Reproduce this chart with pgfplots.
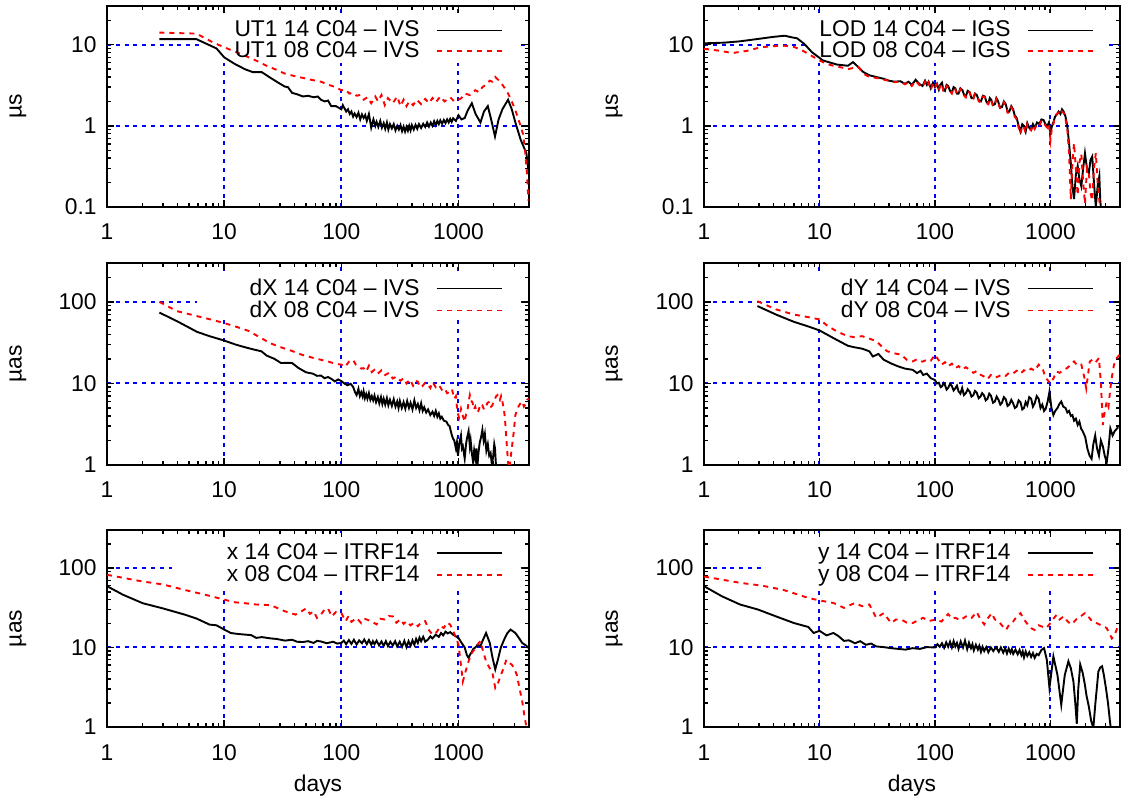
\documentclass[border=0pt]{standalone}
\usepackage{fontspec}
\setmainfont{Liberation Sans}
\usepackage{pgfplots}
\pgfplotsset{compat=1.18}
\newcommand\gpfont{\fontsize{11.4pt}{13.7pt}\selectfont}
\tikzset{
  blk/.style={black, line width=0.95pt, solid},
  rd/.style={red, line width=0.95pt, dash pattern=on 2.5pt off 2.5pt},
}
\begin{document}
\begin{tikzpicture}
\path[use as bounding box] (0,0) rectangle (563pt,401.5pt);

% ---------------- UT1 ----------------
\begin{axis}[at={(53.5pt,398.5pt)}, anchor=north west,
  scale only axis, width=211pt, height=100.5pt,
  xmode=log, ymode=log, xmin=1, xmax=4000, ymin=0.1, ymax=30,
  xtick={1,10,100,1000}, xticklabels={1,10,100,1000},
  minor xtick={2,3,4,5,6,7,8,9,20,30,40,50,60,70,80,90,200,300,400,500,600,700,800,900,2000,3000,4000},
  ytick={0.1,1,10}, yticklabels={0.1,1,10},
  minor ytick={0.2,0.3,0.4,0.5,0.6,0.7,0.8,0.9,2,3,4,5,6,7,8,9,20,30},
  axis line style={line width=1.2pt},
  tick style={black, line width=0.7pt},
  major tick length=3.6pt, minor tick length=2.2pt, tick align=inside,
  grid=major, major grid style={blue, line width=1pt, dash pattern=on 2pt off 2.4pt},
  xticklabel style={font=\gpfont, anchor=base, inner sep=0pt, yshift=-16.5pt},
  yticklabel style={font=\gpfont, anchor=east, inner sep=0pt, xshift=-5pt},
  ylabel={µs}, ylabel style={font=\gpfont, at={(rel axis cs:-0.211,0.5)}, anchor=center},
  legend image code/.code={\path (0pt,0pt); \draw[#1] (6pt,0pt) -- (38.5pt,0pt);},
  legend style={at={(0.938,0.947)}, anchor=north east,
    draw=none, fill=none, inner sep=0pt, row sep=-3pt, font=\gpfont},
  legend cell align=right, legend plot pos=right]
\addplot[fill=white, draw=none, forget plot] coordinates {(6.1,5.9)(3224,5.9)(3224,24.2)(6.1,24.2)} -- cycle;
\addplot[blk] coordinates {(2.8,11.7)(5.8,11.7)(8.6,9.0)(10,7.0)(12.3,5.8)(15,5.0)(17.5,4.6)(20.9,4.6)(24.9,3.9)(29,3.4)(32.9,3.05)(35,3.0)(38,2.55)(42,2.45)(47,2.3)(52,2.35)(58,2.25)(63,2.3)(67,2.1)(72,2.0)(77,2.05)(82,1.75)(90,1.75)(100,1.6)(103,1.8)(110,1.5)(114,1.6)(118,1.4)(122,1.5)(126,1.3)(130,1.42)(135,1.28)(140,1.45)(145,1.2)(150,1.38)(155,1.25)(160,1.36)(165,1.15)(172,1.4)(180,0.95)(188,1.2)(195,1.0)(200,1.12)(207,0.97)(215,1.15)(222,0.95)(230,1.08)(237,0.92)(245,1.1)(252,0.9)(260,1.05)(270,0.93)(280,1.05)(290,0.88)(300,1.0)(310,0.9)(320,1.02)(330,0.86)(340,0.98)(350,0.85)(360,0.97)(370,0.87)(380,1.0)(390,0.88)(400,1.02)(415,0.9)(430,1.03)(445,0.92)(460,1.05)(480,0.94)(500,1.06)(520,0.97)(540,1.1)(560,0.98)(580,1.1)(600,1.0)(620,1.14)(640,1.02)(660,1.15)(680,1.05)(700,1.17)(725,1.06)(750,1.18)(775,1.08)(800,1.2)(825,1.1)(850,1.22)(875,1.12)(900,1.24)(950,1.15)(1000,1.35)(1060,1.2)(1130,1.25)(1200,1.55)(1300,1.9)(1400,1.4)(1540,1.1)(1650,1.5)(1780,1.75)(1900,1.2)(2050,0.74)(2200,1.2)(2370,1.6)(2650,2.1)(2850,1.6)(3060,1.1)(3400,0.67)(3800,0.46)(3980,0.26)};
\addlegendentry{UT1 14 C04 – IVS}
\addplot[rd] coordinates {(2.8,14.1)(5.8,13.7)(8,10.7)(10,9.3)(13,8.0)(16.2,7.0)(20,6.1)(23,5.5)(28,4.9)(33,4.4)(40,4.1)(47,3.9)(55,3.7)(67,3.5)(78,3.2)(89,3.0)(100,2.75)(108,2.8)(117,2.5)(126,2.55)(135,2.35)(145,2.4)(155,2.1)(167,2.25)(180,1.9)(195,2.3)(206,2.0)(220,2.4)(235,1.8)(250,2.2)(275,1.9)(300,2.3)(320,1.75)(340,2.1)(360,1.75)(380,2.0)(410,1.8)(440,2.1)(480,1.85)(520,2.15)(560,1.9)(600,2.2)(640,1.95)(700,2.3)(760,2.0)(850,2.25)(920,2.0)(1000,2.1)(1060,2.2)(1130,2.5)(1250,2.4)(1390,2.75)(1500,2.6)(1600,3.0)(1720,3.2)(1850,3.6)(1950,3.5)(2060,4.0)(2180,3.7)(2300,3.4)(2450,3.0)(2650,2.5)(2850,2.0)(3060,1.55)(3250,1.2)(3400,0.98)(3550,0.8)(3700,0.5)(3850,0.25)(3950,0.12)};
\addlegendentry{UT1 08 C04 – IVS}
\end{axis}

% ---------------- LOD ----------------
\begin{axis}[at={(352pt,398.5pt)}, anchor=north west,
  scale only axis, width=208pt, height=100.5pt,
  xmode=log, ymode=log, xmin=1, xmax=4000, ymin=0.1, ymax=30,
  xtick={1,10,100,1000}, xticklabels={1,10,100,1000},
  minor xtick={2,3,4,5,6,7,8,9,20,30,40,50,60,70,80,90,200,300,400,500,600,700,800,900,2000,3000,4000},
  ytick={0.1,1,10}, yticklabels={0.1,1,10},
  minor ytick={0.2,0.3,0.4,0.5,0.6,0.7,0.8,0.9,2,3,4,5,6,7,8,9,20,30},
  axis line style={line width=1.2pt},
  tick style={black, line width=0.7pt},
  major tick length=3.6pt, minor tick length=2.2pt, tick align=inside,
  grid=major, major grid style={blue, line width=1pt, dash pattern=on 2pt off 2.4pt},
  xticklabel style={font=\gpfont, anchor=base, inner sep=0pt, yshift=-16.5pt},
  yticklabel style={font=\gpfont, anchor=east, inner sep=0pt, xshift=-5pt},
  ylabel={µs}, ylabel style={font=\gpfont, at={(rel axis cs:-0.216,0.5)}, anchor=center},
  legend image code/.code={\path (0pt,0pt); \draw[#1] (6pt,0pt) -- (38.5pt,0pt);},
  legend style={at={(0.9375,0.947)}, anchor=north east,
    draw=none, fill=none, inner sep=0pt, row sep=-3pt, font=\gpfont},
  legend cell align=right, legend plot pos=right]
\addplot[fill=white, draw=none, forget plot] coordinates {(7.5,5.9)(3224,5.9)(3224,24.2)(7.5,24.2)} -- cycle;
\addplot[blk] coordinates {(1,10.4)(1.5,10.6)(2.04,11.0)(3.1,11.9)(4,12.5)(5,12.9)(5.8,12.3)(6.4,12.0)(7.4,10.2)(8.6,8.1)(10.7,6.4)(12,6.1)(14.1,5.7)(17.6,5.5)(19.5,6.1)(21.7,5.3)(24,4.6)(27,4.2)(31,4.0)(36,3.8)(40,3.6)(44.6,3.5)(50,3.55)(55,3.3)(59,3.5)(63,3.2)(68,3.7)(73,3.3)(78,3.1)(82,3.6)(85,3.2)(88,3.5)(92,2.9)(96,3.4)(100,3.0)(104,3.3)(108,2.8)(111,3.2)(115,3.4)(118,2.8)(122,2.7)(126,3.2)(130,3.1)(135,2.7)(140,2.6)(145,3.0)(150,2.9)(155,2.5)(160,2.5)(166,2.9)(173,2.75)(179,2.4)(185,2.3)(192,2.7)(200,2.6)(207,2.2)(215,2.2)(222,2.5)(230,2.4)(240,2.05)(250,2.0)(260,2.35)(270,2.3)(280,1.95)(290,1.9)(298,2.2)(307,2.1)(318,1.8)(330,1.85)(340,2.2)(350,2.05)(365,1.7)(380,1.7)(395,2.0)(410,1.85)(425,1.5)(440,1.5)(458,1.75)(475,1.6)(490,1.35)(510,1.25)(530,1.0)(550,0.85)(570,1.05)(590,1.0)(610,0.85)(630,1.08)(655,0.95)(680,0.9)(705,1.05)(730,0.94)(765,1.1)(800,1.05)(835,1.2)(870,1.18)(905,1.05)(940,1.0)(970,1.1)(1000,0.81)(1030,1.0)(1060,1.1)(1095,1.3)(1130,1.36)(1175,1.5)(1220,1.4)(1260,1.6)(1300,1.5)(1350,1.3)(1400,0.98)(1450,0.6)(1500,0.35)(1550,0.18)(1600,0.125)(1660,0.25)(1720,0.32)(1780,0.22)(1850,0.18)(1920,0.3)(1990,0.46)(2070,0.3)(2150,0.26)(2220,0.38)(2300,0.42)(2380,0.2)(2470,0.1)(2560,0.18)(2650,0.24)(2700,0.12)(2750,0.09)};
\addlegendentry{LOD 14 C04 – IGS}
\addplot[rd] coordinates {(1,8.9)(1.3,8.5)(1.77,7.9)(2.36,8.4)(3.1,9.3)(4,9.6)(5,9.7)(6,9.4)(7,8.6)(8,7.7)(10,6.4)(11.5,5.8)(13.2,5.5)(15,5.3)(17.6,5.0)(20,5.2)(21.7,5.3)(24,4.4)(27,4.0)(31,3.9)(36,3.7)(40,3.6)(44.6,3.45)(50,3.5)(55,3.25)(59,3.45)(63,3.1)(68,3.6)(73,3.2)(78,3.0)(82,3.5)(85,3.1)(88,3.4)(92,2.8)(96,3.3)(100,2.95)(104,3.25)(108,2.75)(111,3.1)(115,3.3)(118,2.7)(122,2.6)(126,3.1)(130,3.0)(135,2.65)(140,2.5)(145,2.95)(150,2.8)(155,2.45)(160,2.45)(166,2.85)(173,2.7)(179,2.35)(185,2.25)(192,2.65)(200,2.55)(207,2.15)(215,2.15)(222,2.45)(230,2.35)(240,2.0)(250,1.95)(260,2.3)(270,2.25)(280,1.9)(290,1.85)(298,2.15)(307,2.05)(318,1.75)(330,1.8)(340,2.15)(350,2.0)(365,1.65)(380,1.65)(395,1.95)(410,1.8)(425,1.45)(440,1.45)(458,1.7)(475,1.55)(490,1.3)(510,1.2)(530,0.95)(550,0.8)(570,1.0)(590,0.95)(610,0.82)(630,1.05)(655,0.92)(680,0.88)(705,1.02)(730,0.92)(765,1.05)(800,1.0)(835,1.15)(870,1.15)(905,1.0)(940,0.95)(970,1.05)(1000,0.67)(1030,0.95)(1060,1.05)(1095,1.3)(1130,1.4)(1175,1.45)(1220,1.35)(1260,1.5)(1300,1.45)(1350,1.2)(1400,0.9)(1450,0.45)(1500,0.125)(1550,0.35)(1600,0.61)(1660,0.3)(1720,0.14)(1780,0.35)(1850,0.45)(1920,0.2)(1990,0.11)(2070,0.3)(2150,0.26)(2220,0.15)(2300,0.12)(2380,0.3)(2470,0.46)(2560,0.2)(2650,0.12)(2700,0.09)};
\addlegendentry{LOD 08 C04 – IGS}
\end{axis}

% ---------------- dX ----------------
\begin{axis}[at={(53.5pt,270pt)}, anchor=north west,
  scale only axis, width=211pt, height=101pt,
  xmode=log, ymode=log, xmin=1, xmax=4000, ymin=1, ymax=300,
  xtick={1,10,100,1000}, xticklabels={1,10,100,1000},
  minor xtick={2,3,4,5,6,7,8,9,20,30,40,50,60,70,80,90,200,300,400,500,600,700,800,900,2000,3000,4000},
  ytick={1,10,100}, yticklabels={1,10,100},
  minor ytick={2,3,4,5,6,7,8,9,20,30,40,50,60,70,80,90,200,300},
  axis line style={line width=1.2pt},
  tick style={black, line width=0.7pt},
  major tick length=3.6pt, minor tick length=2.2pt, tick align=inside,
  grid=major, major grid style={blue, line width=1pt, dash pattern=on 2pt off 2.4pt},
  xticklabel style={font=\gpfont, anchor=base, inner sep=0pt, yshift=-16.5pt},
  yticklabel style={font=\gpfont, anchor=east, inner sep=0pt, xshift=-5pt},
  ylabel={µas}, ylabel style={font=\gpfont, at={(rel axis cs:-0.211,0.5)}, anchor=center},
  legend image code/.code={\path (0pt,0pt); \draw[#1] (6pt,0pt) -- (38.5pt,0pt);},
  legend style={at={(0.938,0.944)}, anchor=north east,
    draw=none, fill=none, inner sep=0pt, row sep=-2.75pt, font=\gpfont},
  legend cell align=right, legend plot pos=right]
\addplot[fill=white, draw=none, forget plot] coordinates {(5.9,60.7)(3224,60.7)(3224,241.6)(5.9,241.6)} -- cycle;
\addplot[blk] coordinates {(2.8,74)(3.96,58)(5.85,43)(7.5,38)(10,33.6)(12.5,30)(15.2,27.7)(18,26)(20.8,24.8)(23,22)(26.7,20.1)(30.6,17.8)(35,17.9)(38,17.8)(43,15.5)(50,13.7)(57,13.2)(62,12.4)(67,12.5)(72,11.6)(77,12.0)(82,11.4)(88,10.6)(94,11.2)(100,10.7)(106,10.0)(113,9.5)(120,9.9)(126,9.1)(131,7.8)(135,7.2)(140,8.6)(144,7.0)(148,7.8)(152,6.9)(155,8.0)(159,6.6)(163,7.4)(167,6.5)(172,7.6)(177,6.3)(182,7.0)(187,6.2)(192,7.1)(198,5.9)(205,6.8)(211,5.7)(218,6.8)(224,5.6)(230,6.5)(237,5.5)(245,6.6)(252,5.4)(260,6.3)(270,5.3)(280,6.4)(290,5.2)(300,6.0)(308,5.0)(316,6.1)(328,5.0)(340,5.9)(352,4.9)(365,6.1)(378,5.0)(390,5.8)(405,4.8)(420,6.2)(435,5.0)(450,5.6)(465,4.7)(480,5.7)(495,4.6)(510,5.1)(530,4.4)(550,4.8)(575,4.1)(600,4.5)(620,4.0)(640,4.6)(660,3.9)(680,4.3)(700,3.7)(720,3.9)(750,3.5)(790,3.4)(815,3.1)(840,3.0)(860,2.6)(880,2.3)(900,2.1)(920,2.0)(950,1.6)(970,1.9)(990,1.3)(1020,1.9)(1050,2.3)(1070,1.6)(1090,1.7)(1130,1.2)(1160,1.8)(1180,2.1)(1220,2.6)(1250,1.7)(1270,2.0)(1300,1.4)(1330,1.1)(1360,1.5)(1390,1.2)(1420,1.6)(1450,0.95)(1480,1.4)(1520,1.9)(1560,2.2)(1600,2.7)(1640,2.0)(1680,2.4)(1730,1.5)(1780,1.8)(1830,1.3)(1880,1.4)(1930,1.0)(1980,1.3)(2020,1.8)(2050,1.6)(2080,1.1)(2100,0.9)};
\addlegendentry{dX 14 C04 – IVS}
\addplot[rd] coordinates {(2.8,100)(3.96,77)(5.85,67)(8,60)(10,55)(13,49)(16.2,44)(20,37)(24.9,31)(30,28)(38,25)(46,22.5)(58,20.5)(67,19.5)(77,18.6)(88,17.5)(100,17)(108,16)(116,18.5)(126,19.5)(133,17)(140,16.5)(148,15.2)(155,15.4)(163,14)(172,16.5)(182,13.8)(192,14.7)(205,13.2)(220,14.5)(237,12.7)(255,13.5)(275,11.5)(295,12.1)(320,10.8)(340,11.6)(360,10)(385,11.2)(410,9.4)(430,10.8)(450,10.5)(470,9.0)(490,9.2)(520,10.2)(550,9.6)(575,8.8)(600,10.4)(640,9.0)(680,9.6)(720,8.4)(760,8.8)(800,7.6)(850,7.9)(880,8.5)(920,6.5)(950,7.0)(980,4.5)(1010,3.8)(1050,4.9)(1090,4.0)(1130,3.4)(1160,4.2)(1190,4.5)(1220,6.0)(1250,7.2)(1280,6.2)(1320,5.8)(1350,4.8)(1390,5.2)(1430,4.4)(1480,4.6)(1540,5.6)(1600,5.4)(1650,4.8)(1700,5.0)(1770,5.8)(1850,6.0)(1900,5.2)(1950,5.4)(2000,6.3)(2050,6.5)(2100,7.0)(2150,7.2)(2200,6.4)(2250,6.2)(2310,7.0)(2370,6.0)(2430,5.0)(2480,4.0)(2530,2.8)(2580,1.8)(2650,1.08)(2720,0.9)(2850,1.6)(2960,2.5)(3060,4.1)(3150,4.6)(3250,5.2)(3350,5.6)(3500,6.0)(3620,5.2)(3750,5.6)(3860,6.3)(3980,6.5)};
\addlegendentry{dX 08 C04 – IVS}
\end{axis}

% ---------------- dY ----------------
\begin{axis}[at={(352pt,270pt)}, anchor=north west,
  scale only axis, width=208pt, height=101pt,
  xmode=log, ymode=log, xmin=1, xmax=4000, ymin=1, ymax=300,
  xtick={1,10,100,1000}, xticklabels={1,10,100,1000},
  minor xtick={2,3,4,5,6,7,8,9,20,30,40,50,60,70,80,90,200,300,400,500,600,700,800,900,2000,3000,4000},
  ytick={1,10,100}, yticklabels={1,10,100},
  minor ytick={2,3,4,5,6,7,8,9,20,30,40,50,60,70,80,90,200,300},
  axis line style={line width=1.2pt},
  tick style={black, line width=0.7pt},
  major tick length=3.6pt, minor tick length=2.2pt, tick align=inside,
  grid=major, major grid style={blue, line width=1pt, dash pattern=on 2pt off 2.4pt},
  xticklabel style={font=\gpfont, anchor=base, inner sep=0pt, yshift=-16.5pt},
  yticklabel style={font=\gpfont, anchor=east, inner sep=0pt, xshift=-5pt},
  ylabel={µas}, ylabel style={font=\gpfont, at={(rel axis cs:-0.216,0.5)}, anchor=center},
  legend image code/.code={\path (0pt,0pt); \draw[#1] (6pt,0pt) -- (38.5pt,0pt);},
  legend style={at={(0.9375,0.944)}, anchor=north east,
    draw=none, fill=none, inner sep=0pt, row sep=-2.75pt, font=\gpfont},
  legend cell align=right, legend plot pos=right]
\addplot[fill=white, draw=none, forget plot] coordinates {(5.43,60.7)(3224,60.7)(3224,241.6)(5.43,241.6)} -- cycle;
\addplot[blk] coordinates {(2.9,89)(4.2,70)(6,57)(8,50)(10,44.7)(13.2,36)(17.6,29)(20,27.8)(23.4,26.7)(27,24.8)(29,21.4)(32.4,23)(36,19.5)(42,17.5)(48,16.2)(55,15.2)(64,14.7)(70,13.4)(75,14.3)(79,12.7)(85,13.2)(92,11.6)(100,11)(104,10.0)(108,10.2)(112,9.0)(115,9.2)(119,10.1)(122,9.6)(126,8.4)(130,8.8)(135,9.9)(140,9.3)(145,8.2)(150,8.7)(155,9.4)(160,8.0)(166,7.5)(172,8.8)(178,7.2)(185,7.6)(192,8.5)(200,7.9)(207,6.9)(215,7.2)(222,8.1)(230,7.7)(239,6.6)(248,6.9)(256,7.6)(265,7.2)(275,6.2)(285,6.5)(295,7.5)(305,7.1)(318,5.8)(330,6.0)(342,6.9)(355,6.3)(368,5.5)(380,5.8)(395,6.8)(410,6.4)(425,5.3)(440,5.5)(458,6.3)(475,5.7)(492,5.0)(510,5.2)(530,6.2)(550,5.9)(570,4.8)(590,5.0)(610,5.9)(630,5.4)(655,6.8)(680,6.5)(705,5.2)(730,5.7)(760,7.0)(790,6.5)(820,5.0)(850,5.5)(880,4.6)(910,4.9)(945,6.0)(980,7.9)(1020,5.0)(1060,4.1)(1100,4.6)(1150,5.0)(1195,5.6)(1240,6.0)(1290,5.2)(1350,5.0)(1400,4.4)(1450,4.6)(1500,4.0)(1550,4.1)(1600,3.5)(1660,3.7)(1720,3.1)(1780,3.4)(1840,2.8)(1900,2.6)(2000,2.2)(2090,1.58)(2180,1.3)(2270,1.19)(2350,1.8)(2440,2.3)(2530,1.6)(2630,1.3)(2730,2.0)(2840,1.7)(2950,1.3)(3070,1.08)(3180,1.6)(3300,2.8)(3450,2.3)(3600,2.6)(3850,2.9)};
\addlegendentry{dY 14 C04 – IVS}
\addplot[rd] coordinates {(2.9,102)(4.2,81)(6,70)(8,65)(10,61)(11.5,52)(13.2,46)(15.5,41)(17.6,38)(20,37)(23.4,38)(27,35.5)(31,33)(35,28)(38.6,24.8)(44,23.5)(51,22.5)(57,19.5)(64,18.6)(70,19.8)(78,18.5)(85,19.5)(92,19.0)(100,22.5)(107,19.5)(114,17)(122,18.2)(130,16.2)(140,17.5)(150,15.4)(160,16.3)(172,14.8)(185,15.8)(200,14.7)(215,13.5)(230,14.2)(248,12.8)(265,12.2)(285,11.3)(305,12.7)(330,11.8)(355,12.2)(380,12.9)(410,12.4)(440,13.6)(475,13.3)(510,14.3)(550,13.2)(590,14.5)(630,14)(680,15.2)(730,14.3)(790,17)(850,15.5)(910,11.7)(1000,10)(1060,11.5)(1130,14)(1200,13.5)(1300,14.7)(1400,15.5)(1500,17)(1600,18.6)(1720,16.5)(1850,17)(1950,12.5)(2040,8.7)(2110,12.5)(2190,18.6)(2300,19.5)(2450,18.0)(2630,20.5)(2740,9.5)(2840,3.1)(2950,4.5)(3070,6.0)(3180,5.2)(3300,8.7)(3420,12.5)(3550,17)(3750,20.5)(3970,22.5)};
\addlegendentry{dY 08 C04 – IVS}
\end{axis}

% ---------------- x ----------------
\begin{axis}[at={(53.5pt,136.5pt)}, anchor=north west,
  scale only axis, width=211pt, height=98.5pt,
  xmode=log, ymode=log, xmin=1, xmax=4000, ymin=1, ymax=300,
  xtick={1,10,100,1000}, xticklabels={1,10,100,1000},
  minor xtick={2,3,4,5,6,7,8,9,20,30,40,50,60,70,80,90,200,300,400,500,600,700,800,900,2000,3000,4000},
  ytick={1,10,100}, yticklabels={1,10,100},
  minor ytick={2,3,4,5,6,7,8,9,20,30,40,50,60,70,80,90,200,300},
  axis line style={line width=1.2pt},
  tick style={black, line width=0.7pt},
  major tick length=3.6pt, minor tick length=2.2pt, tick align=inside,
  grid=major, major grid style={blue, line width=1pt, dash pattern=on 2pt off 2.4pt},
  xticklabel style={font=\gpfont, anchor=base, inner sep=0pt, yshift=-17pt},
  yticklabel style={font=\gpfont, anchor=east, inner sep=0pt, xshift=-5pt},
  ylabel={µas}, ylabel style={font=\gpfont, at={(rel axis cs:-0.211,0.5)}, anchor=center},
  xlabel={days}, xlabel style={font=\gpfont, at={(rel axis cs:0.5,-0.3)}, anchor=center},
  legend image code/.code={\path (0pt,0pt); \draw[#1] (6pt,0pt) -- (38.5pt,0pt);},
  legend style={at={(0.938,0.952)}, anchor=north east,
    draw=none, fill=none, inner sep=0pt, row sep=-2.4pt, font=\gpfont},
  legend cell align=right, legend plot pos=right]
\addplot[fill=white, draw=none, forget plot] coordinates {(3.59,57.4)(3224,57.4)(3224,240)(3.59,240)} -- cycle;
\addplot[blk] coordinates {(1,59)(1.37,46)(2.02,36)(3,31)(4.56,26)(5.85,23)(7.5,19.4)(8.6,19)(10,16.8)(11.4,15.2)(13,14.8)(15.2,14.5)(17,14.3)(18.8,13.2)(21,13.5)(24.9,13)(28,12.8)(33,12.2)(38,12.5)(42,11.8)(47,11.7)(52,12.0)(58,11.4)(62,12.1)(67,11.9)(75,11.3)(85,11.8)(92,11.2)(100,11.4)(105,12.2)(110,11.0)(116,12.4)(122,11.1)(128,12.5)(135,10.9)(142,12.3)(150,11.3)(157,12.6)(165,11.0)(172,12.4)(180,10.8)(186,12.0)(192,11.0)(200,12.2)(210,10.6)(220,11.9)(230,10.5)(240,12.0)(250,10.4)(262,11.8)(275,10.6)(288,12.0)(300,10.3)(315,11.8)(330,10.2)(345,12.1)(360,10.1)(375,12.0)(390,10.5)(405,12.3)(420,10.8)(435,12.8)(450,11.4)(465,13.3)(480,12.0)(500,13.6)(520,11.8)(550,12.6)(575,13.8)(600,13.0)(640,14.5)(680,13.6)(710,15.2)(740,14.2)(775,15.8)(810,15.0)(850,15.6)(900,14.5)(950,13.8)(1000,13.2)(1060,11.5)(1130,10)(1180,8.0)(1220,7.4)(1260,8.2)(1300,8.8)(1340,9.6)(1390,10)(1460,10.8)(1540,10.4)(1620,12.5)(1720,15.2)(1850,11.4)(1950,7.5)(2060,5.3)(2180,7.2)(2300,10)(2450,12.5)(2600,15.0)(2780,16.8)(3060,15.2)(3300,13.0)(3500,11.4)(3800,10.5)(3980,9.8)};
\addlegendentry{x 14 C04 – ITRF14}
\addplot[rd] coordinates {(1,82)(1.96,68)(3,62)(4.56,53)(6.9,46)(10,40)(12.3,37)(15,36)(18.8,34.7)(24.9,34)(29,31)(33,28.5)(37,27)(40.6,25.9)(45,28)(50,31)(54,26.5)(58,28.5)(62,23.5)(67,25.9)(72,30)(77,31)(83,24.5)(90,28)(100,27.2)(105,23.5)(109,21.4)(115,24.8)(122,21.0)(135,23.5)(148,20.2)(160,22.8)(180,21.4)(200,19.5)(215,23.0)(237,22.4)(255,24.8)(275,24.6)(295,20.5)(320,22.6)(340,19.8)(360,21.4)(390,19.0)(420,20.5)(450,18.5)(485,21.0)(520,21.4)(560,16.5)(600,14.5)(650,15.5)(700,18.5)(750,17.6)(800,20.5)(850,19.4)(920,15.0)(1000,10.9)(1050,6.0)(1090,3.75)(1150,5.0)(1220,6.7)(1300,8.5)(1390,9.8)(1460,11.0)(1540,12)(1620,9.0)(1720,6.7)(1830,5.6)(1940,5.0)(2060,3.1)(2180,3.6)(2300,4.5)(2430,5.5)(2560,7.0)(2700,6.4)(2850,6.1)(3000,5.4)(3150,4.5)(3300,3.2)(3500,2.1)(3650,1.4)(3800,1.0)(3950,0.8)};
\addlegendentry{x 08 C04 – ITRF14}
\end{axis}

% ---------------- y ----------------
\begin{axis}[at={(352pt,136.5pt)}, anchor=north west,
  scale only axis, width=208pt, height=98.5pt,
  xmode=log, ymode=log, xmin=1, xmax=4000, ymin=1, ymax=300,
  xtick={1,10,100,1000}, xticklabels={1,10,100,1000},
  minor xtick={2,3,4,5,6,7,8,9,20,30,40,50,60,70,80,90,200,300,400,500,600,700,800,900,2000,3000,4000},
  ytick={1,10,100}, yticklabels={1,10,100},
  minor ytick={2,3,4,5,6,7,8,9,20,30,40,50,60,70,80,90,200,300},
  axis line style={line width=1.2pt},
  tick style={black, line width=0.7pt},
  major tick length=3.6pt, minor tick length=2.2pt, tick align=inside,
  grid=major, major grid style={blue, line width=1pt, dash pattern=on 2pt off 2.4pt},
  xticklabel style={font=\gpfont, anchor=base, inner sep=0pt, yshift=-17pt},
  yticklabel style={font=\gpfont, anchor=east, inner sep=0pt, xshift=-5pt},
  ylabel={µas}, ylabel style={font=\gpfont, at={(rel axis cs:-0.216,0.5)}, anchor=center},
  xlabel={days}, xlabel style={font=\gpfont, at={(rel axis cs:0.5,-0.3)}, anchor=center},
  legend image code/.code={\path (0pt,0pt); \draw[#1] (6pt,0pt) -- (38.5pt,0pt);},
  legend style={at={(0.9375,0.952)}, anchor=north east,
    draw=none, fill=none, inner sep=0pt, row sep=-2.4pt, font=\gpfont},
  legend cell align=right, legend plot pos=right]
\addplot[fill=white, draw=none, forget plot] coordinates {(3.44,57.4)(3224,57.4)(3224,240)(3.44,240)} -- cycle;
\addplot[blk] coordinates {(1,59)(1.43,44)(2.05,34.7)(2.93,30)(4.2,24.6)(6,20.3)(8,18.1)(8.9,15.2)(10,16.2)(11.5,14.2)(13.2,15.2)(14.5,14.0)(16.3,12.1)(18,12.3)(20.3,11.3)(22.5,12.0)(25.2,10.8)(28,11.2)(31,10.3)(36,10.1)(41.7,9.8)(48,9.6)(55.5,9.4)(64,9.8)(74,9.6)(85,10.1)(100,10)(105,11.0)(110,10.2)(115,11.3)(120,9.9)(125,11.6)(130,10.2)(135,11.8)(140,10.0)(145,12.0)(150,10.3)(155,11.4)(160,9.6)(167,11.9)(175,10.0)(182,12.2)(190,9.5)(197,11.5)(205,9.8)(211,11.0)(217,9.2)(226,10.8)(235,9.4)(242,10.5)(250,8.8)(258,10.2)(267,9.0)(278,10.1)(290,8.7)(305,10.0)(320,9.0)(338,10.1)(357,8.8)(372,10.0)(390,8.6)(405,9.8)(420,8.4)(435,9.7)(450,8.6)(463,9.5)(476,8.3)(498,9.4)(520,8.2)(540,9.3)(560,8.0)(575,8.9)(590,7.5)(610,8.9)(630,7.8)(655,8.7)(680,7.6)(705,8.5)(730,7.4)(760,8.3)(790,8.0)(835,9.3)(880,9.8)(930,7.0)(980,3.1)(1060,7.7)(1150,4.5)(1240,1.9)(1330,4.5)(1430,6.7)(1500,5.5)(1580,3.75)(1640,2.0)(1690,1.1)(1740,3.0)(1810,6.1)(1900,4.8)(1980,3.5)(2050,2.5)(2150,1.8)(2250,1.2)(2350,0.97)(2450,2.0)(2600,5.0)(2700,5.6)(2800,5.8)(2900,4.5)(3020,3.1)(3150,2.0)(3270,1.2)(3350,0.9)};
\addlegendentry{y 14 C04 – ITRF14}
\addplot[rd] coordinates {(1,78)(2.05,65)(3.15,60)(4.85,53)(8,42)(10,39)(13.2,36.3)(16.3,31.5)(20.3,36.3)(23.4,33)(27,34.7)(31,23.6)(36,27)(41.7,20.3)(46,22.5)(51.5,22.3)(57,20.5)(64,20.3)(72,22.0)(79,23.6)(88,21.5)(100,22.3)(114,21.2)(122,24.0)(130,26.3)(140,23.0)(150,23.6)(165,22.0)(186,24.6)(205,23.0)(230,28)(248,22.5)(267,19.5)(285,23.0)(310,27)(330,22.5)(357,21.2)(385,18.5)(412,16.6)(440,19.5)(476,21.2)(510,24.5)(550,27)(590,22.5)(635,19.5)(680,17.5)(730,16.6)(790,19.0)(846,18.3)(920,17.5)(1000,20.3)(1060,23.0)(1130,25.7)(1200,22.5)(1300,24.6)(1400,21.5)(1500,19.5)(1600,21.0)(1720,23.6)(1850,25.0)(1990,27)(2150,24.0)(2300,21.2)(2470,20.5)(2650,19.5)(2850,18.5)(3060,17.6)(3250,15.0)(3400,13)(3600,14.5)(3900,19.5)};
\addlegendentry{y 08 C04 – ITRF14}
\end{axis}
\end{tikzpicture}
\end{document}
